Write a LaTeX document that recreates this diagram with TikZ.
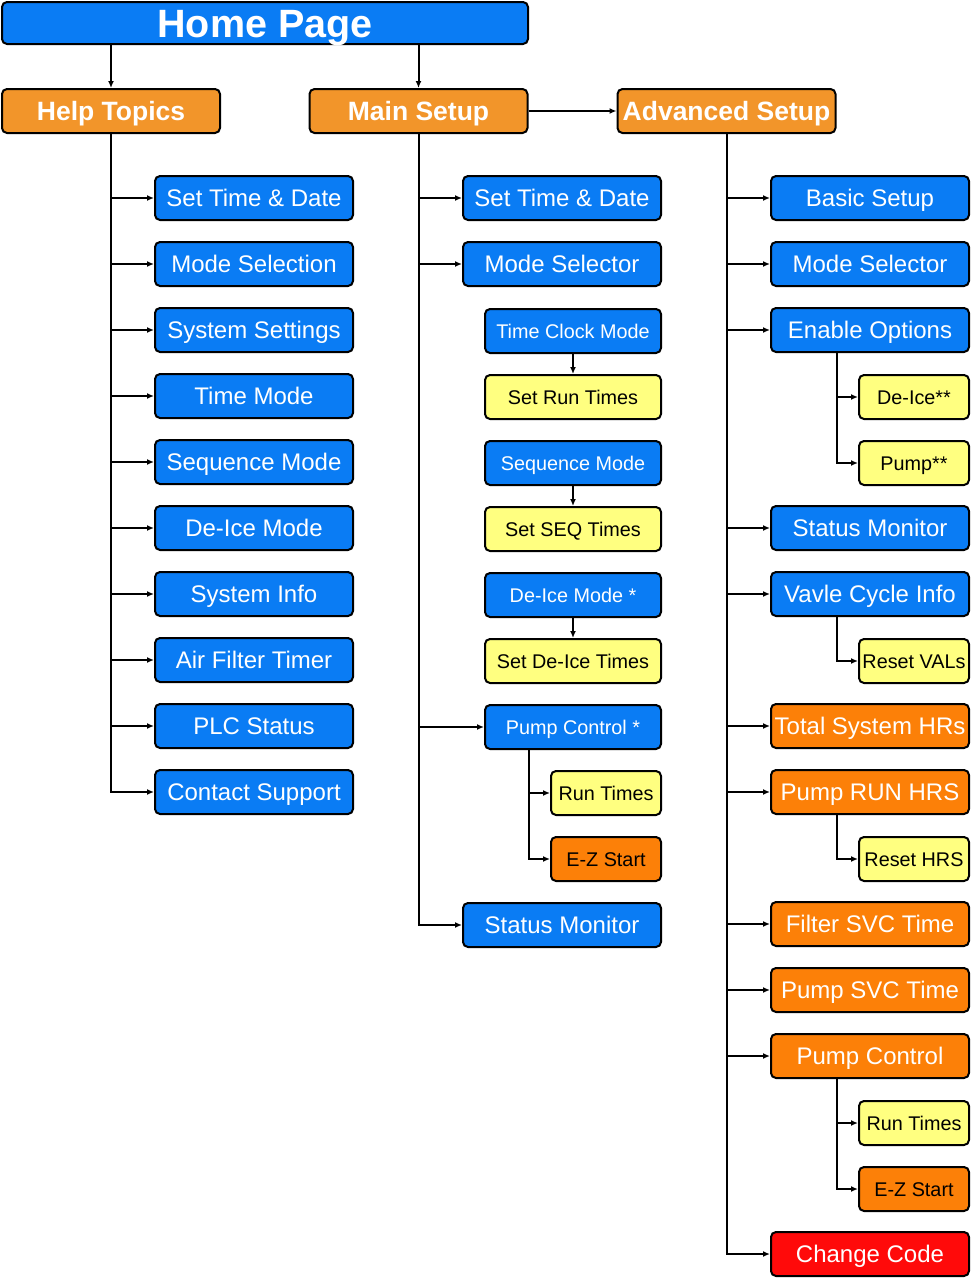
\documentclass[tikz,border=0pt]{standalone}
\usepackage{fontspec}
\setmainfont{Liberation Sans}
\usetikzlibrary{arrows.meta}
\definecolor{cblue}{HTML}{0A7CF4}
\definecolor{chdr}{HTML}{F2952A}
\definecolor{corange}{HTML}{FC8008}
\definecolor{cyellow}{HTML}{FFFF80}
\definecolor{cred}{HTML}{FF0A0A}
\tikzset{
  box/.style={draw=black, line width=2pt, rounded corners=5pt, inner sep=0pt, align=center, minimum height=44pt, text depth=0pt},
  wbig/.style={minimum width=198pt},
  wmid/.style={minimum width=176pt},
  wsmall/.style={minimum width=110pt},
  bluebox/.style={box, fill=cblue, text=white},
  hdrbox/.style={box, fill=chdr, text=white, minimum width=218pt, font=\fontsize{26.5}{30}\selectfont\bfseries, text height=19pt},
  orangebox/.style={box, fill=corange, text=white},
  orangedark/.style={box, fill=corange, text=black},
  yellowbox/.style={box, fill=cyellow, text=black},
  redbox/.style={box, fill=cred, text=white},
  fbig/.style={font=\fontsize{24}{28}\selectfont, text height=17.2pt},
  fsmall/.style={font=\fontsize{19.8}{23}\selectfont, text height=14.2pt},
  arr/.style={draw=black, line width=2pt, -{Latex[length=7pt,width=6pt]}},
}
\begin{document}
\begin{tikzpicture}[x=1pt,y=-1pt]
\useasboundingbox (0,0) rectangle (972,1280);
% top
\node[box, fill=cblue, text=white, minimum width=526pt, minimum height=42pt, font=\fontsize{39.5}{44}\selectfont\bfseries, text height=28.5pt] (home) at (265,23) {Home Page};
\node[hdrbox] (help) at (111,111) {Help Topics};
\node[hdrbox] (main) at (418.5,111) {Main Setup};
\node[hdrbox] (adv) at (726.5,111) {Advanced Setup};
\draw[arr] (home.south -| help.north) -- (help.north);
\draw[arr] (home.south -| main.north) -- (main.north);
\draw[arr] (main.east) -- (adv.west);

% help column
\node[bluebox, wbig, fbig] (h1) at (254,198) {Set Time \& Date};
\node[bluebox, wbig, fbig] (h2) at (254,264) {Mode Selection};
\node[bluebox, wbig, fbig] (h3) at (254,330) {System Settings};
\node[bluebox, wbig, fbig] (h4) at (254,396) {Time Mode};
\node[bluebox, wbig, fbig] (h5) at (254,462) {Sequence Mode};
\node[bluebox, wbig, fbig] (h6) at (254,528) {De-Ice Mode};
\node[bluebox, wbig, fbig] (h7) at (254,594) {System Info};
\node[bluebox, wbig, fbig] (h8) at (254,660) {Air Filter Timer};
\node[bluebox, wbig, fbig] (h9) at (254,726) {PLC Status};
\node[bluebox, wbig, fbig] (h10) at (254,792) {Contact Support};
\foreach \n in {h1,h2,h3,h4,h5,h6,h7,h8,h9,h10}
  \draw[arr] (help.south) |- (\n.west);

% main column
\node[bluebox, wbig, fbig] (m1) at (562,198) {Set Time \& Date};
\node[bluebox, wbig, fbig] (m2) at (562,264) {Mode Selector};
\node[bluebox, wmid, fsmall] (m3) at (573,331) {Time Clock Mode};
\node[yellowbox, wmid, fsmall] (m4) at (573,397) {Set Run Times};
\node[bluebox, wmid, fsmall] (m5) at (573,463) {Sequence Mode};
\node[yellowbox, wmid, fsmall] (m6) at (573,529) {Set SEQ Times};
\node[bluebox, wmid, fsmall] (m7) at (573,595) {De-Ice Mode *};
\node[yellowbox, wmid, fsmall] (m8) at (573,661) {Set De-Ice Times};
\node[bluebox, wmid, fsmall] (m9) at (573,727) {Pump Control *};
\node[yellowbox, wsmall, fsmall] (m10) at (606,793) {Run Times};
\node[orangedark, wsmall, fsmall] (m11) at (606,859) {E-Z Start};
\node[bluebox, wbig, fbig] (m12) at (562,925) {Status Monitor};
\foreach \n in {m1,m2,m9,m12}
  \draw[arr] (main.south) |- (\n.west);
\draw[arr] (m3.south) -- (m4.north);
\draw[arr] (m5.south) -- (m6.north);
\draw[arr] (m7.south) -- (m8.north);
\coordinate (pcx) at (529,749);
\draw[arr] (pcx) |- (m10.west);
\draw[arr] (pcx) |- (m11.west);

% advanced column
\node[bluebox, wbig, fbig] (a1) at (870,198) {Basic Setup};
\node[bluebox, wbig, fbig] (a2) at (870,264) {Mode Selector};
\node[bluebox, wbig, fbig] (a3) at (870,330) {Enable Options};
\node[yellowbox, wsmall, fsmall] (a4) at (914,397) {De-Ice**};
\node[yellowbox, wsmall, fsmall] (a5) at (914,463) {Pump**};
\node[bluebox, wbig, fbig] (a6) at (870,528) {Status Monitor};
\node[bluebox, wbig, fbig] (a7) at (870,594) {Vavle Cycle Info};
\node[yellowbox, wsmall, fsmall] (a8) at (914,661) {Reset VALs};
\node[orangebox, wbig, fbig] (a9) at (870,726) {Total System HRs};
\node[orangebox, wbig, fbig] (a10) at (870,792) {Pump RUN HRS};
\node[yellowbox, wsmall, fsmall] (a11) at (914,859) {Reset HRS};
\node[orangebox, wbig, fbig] (a12) at (870,924) {Filter SVC Time};
\node[orangebox, wbig, fbig] (a13) at (870,990) {Pump SVC Time};
\node[orangebox, wbig, fbig] (a14) at (870,1056) {Pump Control};
\node[yellowbox, wsmall, fsmall] (a15) at (914,1123) {Run Times};
\node[orangedark, wsmall, fsmall] (a16) at (914,1189) {E-Z Start};
\node[redbox, wbig, fbig] (a17) at (870,1254) {Change Code};
\foreach \n in {a1,a2,a3,a6,a7,a9,a10,a12,a13,a14,a17}
  \draw[arr] (adv.south) |- (\n.west);
\coordinate (eox) at (837,352);
\draw[arr] (eox) |- (a4.west);
\draw[arr] (eox) |- (a5.west);
\coordinate (vcx) at (837,616);
\draw[arr] (vcx) |- (a8.west);
\coordinate (prx) at (837,814);
\draw[arr] (prx) |- (a11.west);
\coordinate (pcy) at (837,1078);
\draw[arr] (pcy) |- (a15.west);
\draw[arr] (pcy) |- (a16.west);
\end{tikzpicture}
\end{document}
